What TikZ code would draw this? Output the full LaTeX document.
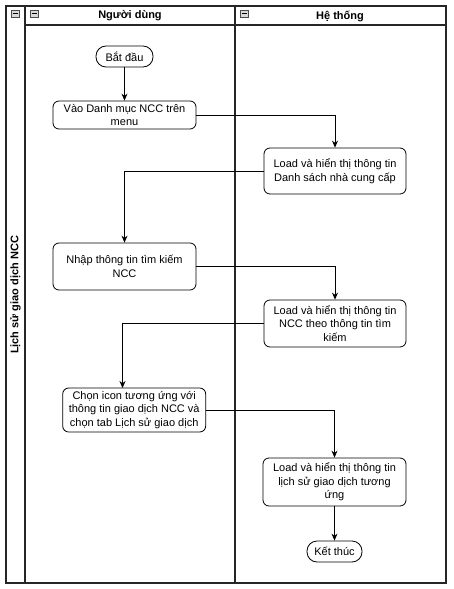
\documentclass[tikz,border=0pt]{standalone}
\usepackage{fontspec}
\setmainfont{Liberation Sans}
\usetikzlibrary{arrows.meta}
\begin{document}
\begin{tikzpicture}[x=1pt,y=-1pt,
  lane/.style={line width=1.4pt, draw=black!85},
  proc/.style={draw, rounded corners=6pt, align=center, line width=0.8pt,
    font=\fontsize{11}{13.5}\selectfont, inner sep=0pt},
  term/.style={draw, rounded corners=10pt, align=center, line width=0.8pt,
    font=\fontsize{11}{13}\selectfont, inner sep=0pt, minimum height=21pt},
  flow/.style={line width=0.8pt, -{Stealth[length=7pt,width=6pt]}},
  hdr/.style={font=\bfseries\fontsize{11}{13}\selectfont},
  minus/.style={draw=black!70, fill=black!15, line width=0.6pt}
]
\useasboundingbox (0,0) rectangle (454,589);
% pool and lanes
\draw[lane] (6,6) rectangle (446,583);
\draw[lane] (25,6) -- (25,583);
\draw[lane] (235,6) -- (235,583);
\draw[lane] (25,25) -- (446,25);
% collapse icons
\foreach \x in {11,30,240}{
  \draw[minus] (\x,10) rectangle ++(8,7);
  \draw[line width=0.6pt] (\x+1.5,13.5) -- ++(5,0);
}
% titles
\node[hdr, rotate=90] (pool) at (15.5,295) {Lịch sử giao dịch NCC};
\node[hdr] (l1) at (130,16) {Người dùng};
\node[hdr] (l2) at (340,16) {Hệ thống};
% nodes
\node[term, minimum width=57pt] (start) at (124.5,56.5) {Bắt đầu};
\node[proc, minimum width=143pt, minimum height=28pt] (vao) at (124.5,115) {Vào Danh mục NCC trên\\menu};
\node[proc, minimum width=142pt, minimum height=46pt] (load1) at (335,171) {Load và hiển thị thông tin\\Danh sách nhà cung cấp};
\node[proc, minimum width=143pt, minimum height=47pt] (nhap) at (124.5,266.5) {Nhập thông tin tìm kiếm\\NCC};
\node[proc, minimum width=142pt, minimum height=47pt] (load2) at (335,323.5) {Load và hiển thị thông tin\\NCC theo thông tin tìm\\kiếm};
\node[proc, minimum width=143pt, minimum height=44pt] (chon) at (134.2,410) {Chọn icon tương ứng với\\thông tin giao dịch NCC và\\chọn tab Lịch sử giao dịch};
\node[proc, minimum width=143pt, minimum height=48pt] (load3) at (334.5,482) {Load và hiển thị thông tin\\lịch sử giao dịch tương\\ứng};
\node[term, minimum width=55pt] (end) at (334.5,551.5) {Kết thúc};
% connectors
\draw[flow] (start) -- (vao);
\draw[flow] (vao.east) -| (load1.north);
\draw[flow] (load1.west) -| (nhap.north);
\draw[flow] (nhap.east) -| (load2.north);
\coordinate (c1) at (122.5,388);
\draw[flow] (load2.west) -| (c1);
\draw[flow] (chon.east) -| (load3.north);
\draw[flow] (load3) -- (end);
\end{tikzpicture}
\end{document}
